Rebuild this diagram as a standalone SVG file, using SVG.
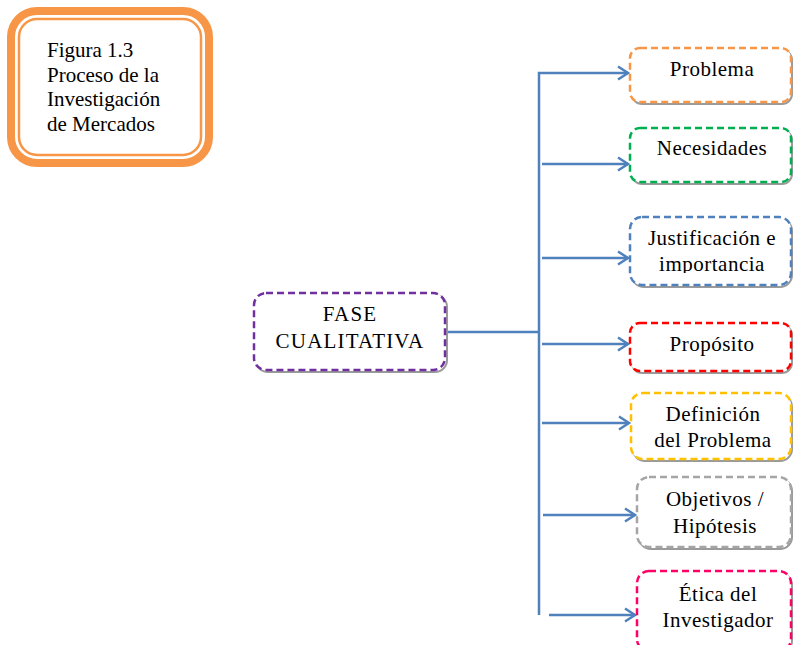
<svg xmlns="http://www.w3.org/2000/svg" width="793" height="645" viewBox="0 0 793 645">
  <style>
    .t { font-family: "Liberation Serif", "Times New Roman", serif; font-size: 21px; fill: #000; }
    .c { text-anchor: middle; letter-spacing: 0.5px; }
    .wide { letter-spacing: 1.2px; }
    .box { fill: #fff; stroke-width: 2.5; stroke-dasharray: 7 4; }
    .shadow { fill: none; stroke: #9a9a9a; stroke-width: 2; }
    .link { fill: none; stroke: #4F81BD; stroke-width: 2.5; }
  </style>
  <defs>
    <marker id="arrow" markerUnits="userSpaceOnUse" markerWidth="16" markerHeight="16" refX="12" refY="8" orient="auto">
      <path d="M2,1.5 L12,8 L2,14.5" fill="none" stroke="#4F81BD" stroke-width="2.5"/>
    </marker>
    <clipPath id="clipJust">
      <rect x="630" y="217" width="162" height="56"/>
    </clipPath>
  </defs>

  <!-- caption box -->
  <g id="caption">
    <rect x="11" y="11" width="198" height="152" rx="26" fill="#fff" stroke="#F79646" stroke-width="8"/>
    <rect x="19" y="19" width="182" height="136" rx="18" fill="none" stroke="#F79646" stroke-width="2.5"/>
    <text class="t" x="47" y="57">Figura 1.3</text>
    <text class="t" x="47" y="82">Proceso de la</text>
    <text class="t" x="47" y="106">Investigación</text>
    <text class="t" x="47" y="131">de Mercados</text>
  </g>

  <!-- connectors -->
  <g id="connectors">
    <path class="link" d="M445,332 H539"/>
    <path class="link" d="M539,615 V73 H628" marker-end="url(#arrow)"/>
    <path class="link" d="M542,164 H628" marker-end="url(#arrow)"/>
    <path class="link" d="M542,258 H628" marker-end="url(#arrow)"/>
    <path class="link" d="M542,344 H628" marker-end="url(#arrow)"/>
    <path class="link" d="M542,423 H629" marker-end="url(#arrow)"/>
    <path class="link" d="M543,515 H635" marker-end="url(#arrow)"/>
    <path class="link" d="M549,615 H635" marker-end="url(#arrow)"/>
  </g>

  <g id="fase">
    <rect class="shadow" x="256" y="295" width="191" height="77" rx="12"/>
    <rect class="box" x="254" y="293" width="191" height="77" rx="12" stroke="#7030A0"/>
    <text class="t c wide" x="350" y="321">FASE</text>
    <text class="t c wide" x="350" y="348">CUALITATIVA</text>
  </g>

  <g id="problema">
    <rect class="shadow" x="632" y="50" width="160" height="54" rx="10"/>
    <rect class="box" x="630" y="48" width="161" height="54" rx="10" stroke="#F79646"/>
    <text class="t c" x="712" y="76">Problema</text>
  </g>

  <g id="necesidades">
    <rect class="shadow" x="632" y="130" width="160" height="54" rx="10"/>
    <rect class="box" x="630" y="128" width="161" height="54" rx="10" stroke="#00B050"/>
    <text class="t c" x="712" y="155">Necesidades</text>
  </g>

  <g id="justificacion">
    <rect class="shadow" x="632" y="219" width="160" height="68" rx="12"/>
    <rect class="box" x="630" y="217" width="161" height="68" rx="12" stroke="#4F81BD"/>
    <g clip-path="url(#clipJust)">
      <text class="t c" x="712" y="245">Justificación e</text>
      <text class="t c" x="712" y="271">importancia</text>
    </g>
  </g>

  <g id="proposito">
    <rect class="shadow" x="632" y="325" width="160" height="48" rx="10"/>
    <rect class="box" x="630" y="323" width="161" height="48" rx="10" stroke="#FF0000"/>
    <text class="t c" x="712" y="351">Propósito</text>
  </g>

  <g id="definicion">
    <rect class="shadow" x="633" y="395" width="159" height="66" rx="12"/>
    <rect class="box" x="631" y="393" width="160" height="66" rx="12" stroke="#FFC000"/>
    <text class="t c" x="713" y="421">Definición</text>
    <text class="t c" x="713" y="447">del Problema</text>
  </g>

  <g id="objetivos">
    <rect class="shadow" x="639" y="479" width="153" height="70" rx="12"/>
    <rect class="box" x="637" y="477" width="154" height="70" rx="12" stroke="#A5A5A5"/>
    <text class="t c" x="715" y="506">Objetivos /</text>
    <text class="t c" x="715" y="533">Hipótesis</text>
  </g>

  <g id="etica">
    <rect class="shadow" x="639" y="573" width="153" height="80" rx="12"/>
    <rect class="box" x="637" y="571" width="154" height="80" rx="12" stroke="#FF0066"/>
    <text class="t c" x="718" y="601">Ética del</text>
    <text class="t c" x="718" y="627">Investigador</text>
  </g>
</svg>
